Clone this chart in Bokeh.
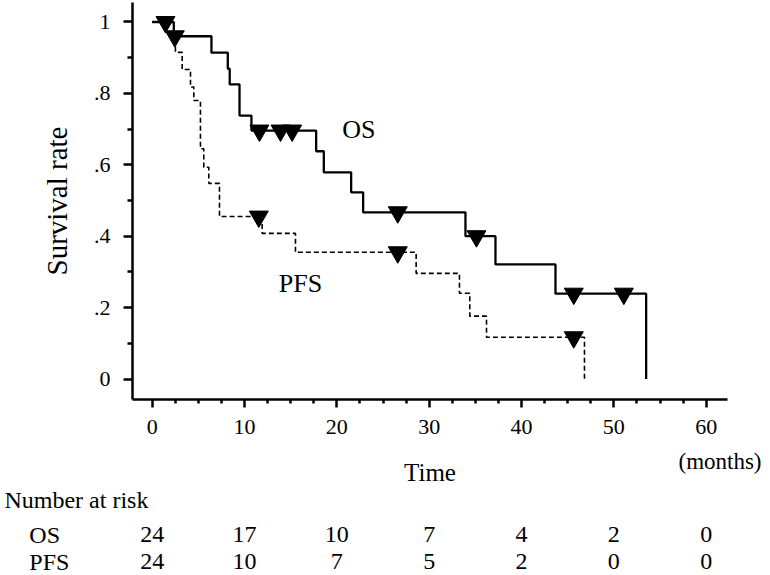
import numpy as np
from bokeh.plotting import figure
from bokeh.layouts import column
from bokeh.models import (Range1d, FixedTicker, CustomJSTickFormatter,
                          ColumnDataSource)
from bokeh.core.properties import value
from bokeh.embed import file_html
from bokeh.resources import INLINE

# ---------------- data ----------------
os_time = [0, 2.34, 6.42, 8.19, 8.40, 9.46, 10.75, 17.76, 18.59, 21.55, 22.85,
           33.93, 37.18, 43.68, 53.50]
os_surv = [1.0, 0.960, 0.914, 0.869, 0.825, 0.738, 0.696, 0.638, 0.579, 0.523,
           0.467, 0.400, 0.321, 0.239, 0.0]
os_cens_time = [1.44, 2.45, 11.62, 13.9, 15.16, 26.6, 35.12, 45.66, 51.08]
os_cens_surv = [1.0, 0.960, 0.696, 0.696, 0.696, 0.467, 0.400, 0.239, 0.239]

pfs_time = [0, 2.34, 2.52, 3.25, 4.15, 4.51, 5.23, 5.59, 6.13, 7.29, 11.91,
            15.52, 28.59, 33.28, 34.40, 36.21, 46.82]
pfs_surv = [1.0, 0.960, 0.915, 0.867, 0.818, 0.780, 0.645, 0.593, 0.548, 0.455,
            0.408, 0.355, 0.296, 0.240, 0.176, 0.117, 0.0]
pfs_cens_time = [11.55, 26.6, 45.66]
pfs_cens_surv = [0.455, 0.355, 0.117]

risk_times = [0, 10, 20, 30, 40, 50, 60]
risk_os = [24, 17, 10, 7, 4, 2, 0]
risk_pfs = [24, 10, 7, 5, 2, 0, 0]

x_ticks = [0, 10, 20, 30, 40, 50, 60]
y_ticks = [0, 0.2, 0.4, 0.6, 0.8, 1.0]
x_minor = [v for v in np.arange(0, 60.01, 2.5).tolist() if v % 10 != 0]
y_minor = [0.1, 0.3, 0.5, 0.7, 0.9]

FONT = "Liberation Serif"
W = 770
H_TOP = 450
H_BOT = 575 - H_TOP
BASE_FIX = 0.38    # svg text sits this many em below the requested baseline
PX_PER_UNIT_Y = 357.0

# ---------------- main plot ----------------
p = figure(width=W, height=H_TOP, output_backend="svg", toolbar_location=None,
           title=None,
           x_range=Range1d(-2.13, 62.31), y_range=Range1d(-0.0574, 1.0546),
           min_border_left=132, min_border_right=43, min_border_top=2,
           min_border_bottom=H_TOP - 399, frame_align=False)
p.outline_line_color = None
p.background_fill_color = "white"
p.border_fill_color = "white"
p.xgrid.visible = False
p.ygrid.visible = False

p.step(pfs_time, pfs_surv, mode="after", line_color="black", line_width=1.6,
       line_dash="5 3")
p.step(os_time, os_surv, mode="after", line_color="black", line_width=2.3)
p.scatter(os_cens_time, os_cens_surv, marker="inverted_triangle", size=19,
          color="black")
p.scatter(pfs_cens_time, pfs_cens_surv, marker="inverted_triangle", size=19,
          color="black")

xa = p.xaxis[0]
ya = p.yaxis[0]
xa.ticker = FixedTicker(ticks=x_ticks, minor_ticks=x_minor)
ya.ticker = FixedTicker(ticks=y_ticks, minor_ticks=y_minor)
ya.formatter = CustomJSTickFormatter(code="""
if (tick == 0) return "0";
if (tick == 1) return "1";
return tick.toFixed(1).replace(/^0/, "");
""")
for ax in (xa, ya):
    ax.axis_line_width = 2.5
    ax.axis_line_color = "black"
    ax.major_tick_line_width = 2.5
    ax.minor_tick_line_width = 2.5
    ax.major_tick_line_color = "black"
    ax.minor_tick_line_color = "black"
    ax.major_tick_in = 0
    ax.minor_tick_in = 0
    ax.major_label_text_font = FONT
    ax.major_label_text_font_size = "22px"
    ax.major_label_text_color = "black"
    ax.axis_label_text_font = FONT
    ax.axis_label_text_font_style = "normal"
    ax.axis_label_text_color = "black"

xa.major_tick_out = 8
xa.minor_tick_out = 4
xa.major_label_standoff = 12

ya.major_tick_out = 9
ya.minor_tick_out = 5
ya.major_label_standoff = 13
ya.axis_label = "Survival rate"
ya.axis_label_text_font_size = "29px"
ya.axis_label_standoff = 18

def ptext(x, y, t, size):
    p.text(x=[x], y=[y + BASE_FIX * size / PX_PER_UNIT_Y], text=[t],
           text_font=value(FONT), text_font_size=value(f"{size}px"),
           text_color="black", text_align="left", text_baseline="alphabetic")

ptext(20.58, 0.670, "OS", 26)
ptext(13.71, 0.2387, "PFS", 26)

# ---------------- x title + number-at-risk table ----------------
# same horizontal scale as the main plot (frame spans the whole width)
px_per_month = 595 / (62.31 + 2.13)
x_left = -2.13 - 132 / px_per_month
x_right = x_left + W / px_per_month
q = figure(width=W, height=H_BOT, output_backend="svg", toolbar_location=None,
           title=None,
           x_range=Range1d(x_left, x_right),
           y_range=Range1d(H_TOP + H_BOT, H_TOP),
           x_axis_location=None, y_axis_location=None,
           min_border=0, min_border_left=0, min_border_right=0,
           min_border_top=0, min_border_bottom=0, frame_align=False)
q.outline_line_color = None
q.background_fill_color = "white"
q.border_fill_color = "white"
q.grid.visible = False

def qtext(x, y, t, size, align):
    q.text(x=[x], y=[y - BASE_FIX * size], text=[t], text_font=value(FONT),
           text_font_size=value(f"{size}px"), text_color="black",
           text_align=align, text_baseline="alphabetic")

qtext(30.09, 481.7, "Time", 25, "center")
qtext(57.0, 470, "(months)", 23, "left")
qtext(-16.0, 509, "Number at risk", 24, "left")
qtext(-13.3, 543.5, "OS", 24, "left")
qtext(-13.3, 570.5, "PFS", 24, "left")

src = ColumnDataSource(dict(t=risk_times,
                            os=[str(v) for v in risk_os],
                            pfs=[str(v) for v in risk_pfs]))
for col, yb in (("os", 543.5), ("pfs", 570.5)):
    q.text(x="t", y=yb - BASE_FIX * 24, text=col, source=src,
           text_font=value(FONT), text_font_size=value("24px"),
           text_color="black", text_align="center",
           text_baseline="alphabetic")

layout = column(p, q, spacing=0)
open("out.html", "w").write(file_html(layout, INLINE))
